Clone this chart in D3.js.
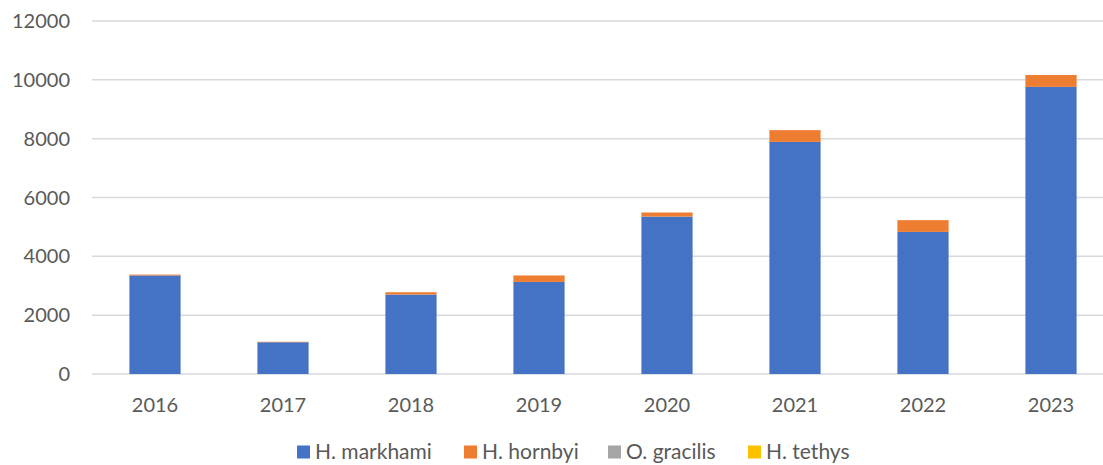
<!DOCTYPE html>
<meta charset="utf-8">
<style>
body { margin: 0; background: #fff; }
text { font-family: Lato, "Open Sans", sans-serif; fill: #595959; }
.grid line { stroke: #d9d9d9; stroke-width: 1.5px; }
</style>
<svg width="1103" height="465"></svg>
<script src="https://cdn.jsdelivr.net/npm/d3@7"></script>
<script>

var years = ["2016", "2017", "2018", "2019", "2020", "2021", "2022", "2023"];
var species = ["H. markhami", "H. hornbyi", "O. gracilis", "H. tethys"];
var markhami = [3350, 1080, 2700, 3130, 5350, 7890, 4830, 9760];
var hornbyi = [30, 15, 80, 220, 140, 400, 400, 405];
var gracilis = [0, 0, 0, 0, 0, 0, 0, 0];
var tethys = [0, 0, 0, 0, 0, 0, 0, 0];
var yTicks = [0, 2000, 4000, 6000, 8000, 10000, 12000];
var colors = ["#4472c4", "#ed7d31", "#a5a5a5", "#ffc000"];

var svg = d3.select("svg");

var rows = years.map(function(y, i) {
  return { year: y, "H. markhami": markhami[i], "H. hornbyi": hornbyi[i],
           "O. gracilis": gracilis[i], "H. tethys": tethys[i] };
});

var x = d3.scaleBand()
    .domain(years)
    .range([91, 1115])
    .paddingInner(0.6)
    .paddingOuter(0.3);

var y = d3.scaleLinear()
    .domain([0, 12000])
    .range([374, 21]);

var color = d3.scaleOrdinal().domain(species).range(colors);

// gridlines
svg.append("g")
    .attr("class", "grid")
    .selectAll("line")
    .data(yTicks)
    .enter().append("line")
    .attr("x1", 92)
    .attr("x2", 1103)
    .attr("y1", function(d) { return y(d); })
    .attr("y2", function(d) { return y(d); });

// y labels
svg.append("g")
    .selectAll("text")
    .data(yTicks)
    .enter().append("text")
    .attr("x", 70)
    .attr("y", function(d) { return y(d); })
    .attr("dy", ".35em")
    .attr("text-anchor", "end")
    .style("font-size", "20px")
    .text(function(d) { return d; });

// bars
var stack = d3.stack().keys(species)(rows);

svg.append("g")
    .selectAll("g")
    .data(stack)
    .enter().append("g")
    .attr("fill", function(d) { return color(d.key); })
    .selectAll("rect")
    .data(function(d) { return d; })
    .enter().append("rect")
    .attr("x", function(d) { return x(d.data.year); })
    .attr("width", x.bandwidth())
    .attr("y", function(d) { return y(d[1]); })
    .attr("height", function(d) { return y(d[0]) - y(d[1]); });

// x labels
svg.append("g")
    .selectAll("text")
    .data(years)
    .enter().append("text")
    .attr("x", function(d) { return x(d) + x.bandwidth() / 2; })
    .attr("y", 405)
    .attr("dy", ".35em")
    .attr("text-anchor", "middle")
    .style("font-size", "20px")
    .text(function(d) { return d; });

// legend
var legendX = [297, 464, 608, 748];
var legend = svg.append("g")
    .selectAll("g")
    .data(species)
    .enter().append("g")
    .attr("transform", function(d, i) { return "translate(" + legendX[i] + ",452)"; });

legend.append("rect")
    .attr("y", -6.5)
    .attr("width", 13)
    .attr("height", 13)
    .attr("fill", function(d) { return color(d); });

legend.append("text")
    .attr("x", 18)
    .attr("dy", ".35em")
    .style("font-size", "21px")
    .text(function(d) { return d; });

</script>
